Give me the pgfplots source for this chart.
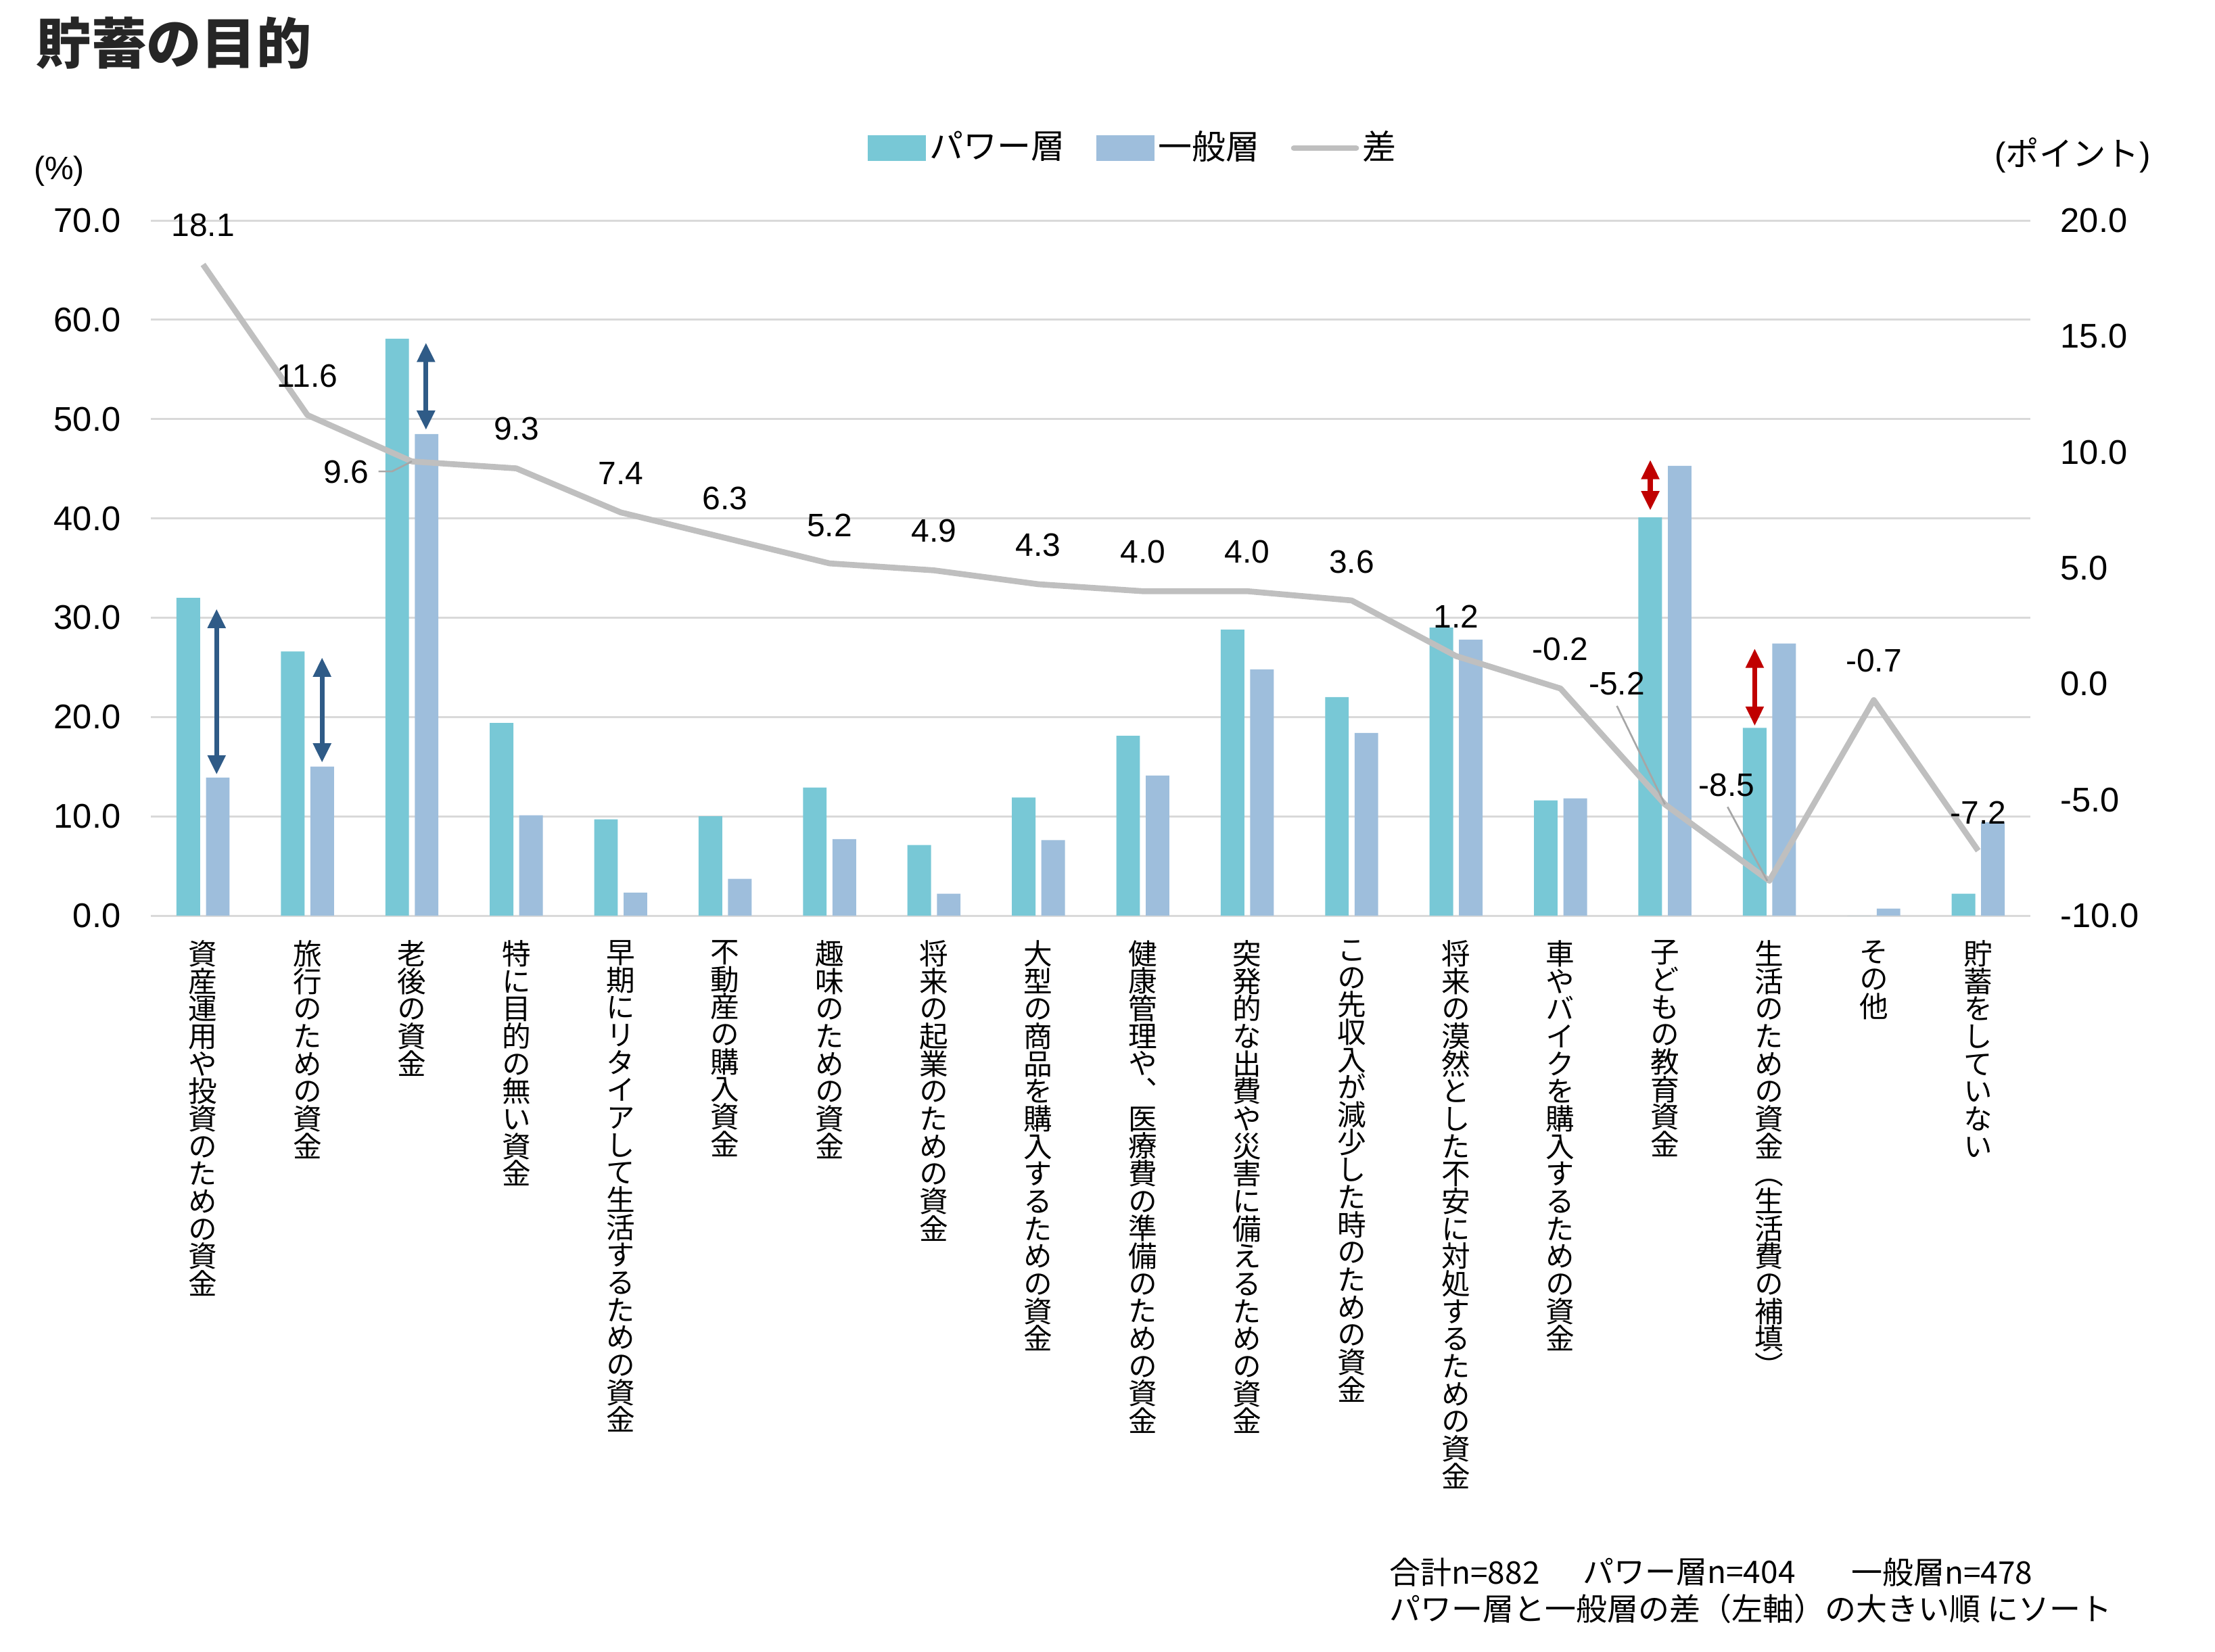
\documentclass[border=0pt]{standalone}
\usepackage{fontspec}
\setmainfont{Liberation Sans}
\newfontfamily\jp{Noto Sans CJK JP}
\newfontfamily\jpv[RawFeature=+vert]{Noto Sans CJK JP}
\usepackage{pgfplots}
\usepackage{pgfplotstable}
\pgfplotsset{compat=1.18}
\usetikzlibrary{arrows.meta}
\definecolor{cteal}{HTML}{78C8D6}
\definecolor{cblue}{HTML}{9EBEDC}
\definecolor{cgrid}{HTML}{D9D9D9}
\definecolor{cline}{HTML}{BFBFBF}
\definecolor{cnavy}{HTML}{2F5B87}
\definecolor{cred}{HTML}{C00000}
\definecolor{cleader}{HTML}{A6A6A6}

\newcommand\vtext[1]{\vbox{\jpv\fontsize{6.4pt}{6.1pt}\selectfont\baselineskip=6.1pt\lineskiplimit=-20pt\lineskip=0pt\relax\vtextaux#1\relax}}
\def\vtextaux#1{\ifx\relax#1\else\hbox to 6.4pt{\hss#1\hss}\expandafter\vtextaux\fi}

\pgfplotsset{
 tealleg/.style={legend image code/.code={\fill[cteal] (0pt,-2.7pt) rectangle (12.5pt,2.7pt);}},
 blueleg/.style={legend image code/.code={\fill[cblue] (0pt,-2.7pt) rectangle (12.5pt,2.7pt);}},
 lineleg/.style={legend image code/.code={\draw[cline, line width=1.3pt, line cap=round] (0pt,0pt) -- (13.8pt,0pt);}},
}

\pgfplotstableread{
x power general diff
0 32.0 13.9 18.1
1 26.6 15.0 11.6
2 58.1 48.5 9.6
3 19.4 10.1 9.3
4 9.7 2.3 7.4
5 10.0 3.7 6.3
6 12.9 7.7 5.2
7 7.1 2.2 4.9
8 11.9 7.6 4.3
9 18.1 14.1 4.0
10 28.8 24.8 4.0
11 22.0 18.4 3.6
12 29.0 27.8 1.2
13 11.6 11.8 -0.2
14 40.1 45.3 -5.2
15 18.9 27.4 -8.5
16 0.0 0.7 -0.7
17 2.2 9.4 -7.2
}\datatable

\begin{document}
\begin{tikzpicture}[
  lbl/.style={font=\fontsize{7.2pt}{8pt}\selectfont, inner sep=0pt},
  leader/.style={cleader, line width=0.4pt},
  navyarr/.style={cnavy, line width=1.1pt, {Triangle[width=3.8pt,length=4.3pt]}-{Triangle[width=3.8pt,length=4.3pt]}},
  redarr/.style={cred, line width=1.1pt, {Triangle[width=3.8pt,length=4.3pt]}-{Triangle[width=3.8pt,length=4.3pt]}},
  foot/.style={anchor=west, inner sep=0pt, font=\jp\fontsize{6.9pt}{8pt}\selectfont},
]
\begin{axis}[
  width=416.85pt, height=154.2pt, scale only axis,
  at={(0pt,0pt)}, anchor=south west,
  xmin=-0.5, xmax=17.5, ymin=0, ymax=70,
  xtick={0,...,17},
  xticklabels={
    {\vtext{資産運用や投資のための資金}},
    {\vtext{旅行のための資金}},
    {\vtext{老後の資金}},
    {\vtext{特に目的の無い資金}},
    {\vtext{早期にリタイアして生活するための資金}},
    {\vtext{不動産の購入資金}},
    {\vtext{趣味のための資金}},
    {\vtext{将来の起業のための資金}},
    {\vtext{大型の商品を購入するための資金}},
    {\vtext{健康管理や、医療費の準備のための資金}},
    {\vtext{突発的な出費や災害に備えるための資金}},
    {\vtext{この先収入が減少した時のための資金}},
    {\vtext{将来の漠然とした不安に対処するための資金}},
    {\vtext{車やバイクを購入するための資金}},
    {\vtext{子どもの教育資金}},
    {\vtext{生活のための資金（生活費の補填）}},
    {\vtext{その他}},
    {\vtext{貯蓄をしていない}}
  },
  ytick={0,10,...,70},
  axis line style={draw=none},
  ymajorgrids, grid style={cgrid, line width=0.45pt},
  tick style={draw=none},
  yticklabel style={anchor=east, inner sep=0pt, xshift=-6.5pt, font=\fontsize{7.6pt}{9pt}\selectfont,
    /pgf/number format/.cd, fixed, fixed zerofill, precision=1, assume math mode=true},
  xticklabel style={anchor=north, inner sep=0pt, yshift=-5.3pt},
  scaled y ticks=false,
  clip=false,
]
\addplot[ybar, bar width=0.226, bar shift=-0.141, fill=cteal, draw=none] table[x=x, y=power] {\datatable};
\addplot[ybar, bar width=0.226, bar shift=0.141, fill=cblue, draw=none] table[x=x, y=general] {\datatable};
\draw[navyarr] (axis cs:0.13,30.9) -- (axis cs:0.13,14.2);
\draw[navyarr] (axis cs:1.14,26.0) -- (axis cs:1.14,15.4);
\draw[navyarr] (axis cs:2.135,57.7) -- (axis cs:2.135,48.9);
\draw[redarr] (axis cs:13.86,45.9) -- (axis cs:13.86,40.8);
\draw[redarr] (axis cs:14.86,26.9) -- (axis cs:14.86,19.1);
\end{axis}
\begin{axis}[
  width=416.85pt, height=154.2pt, scale only axis,
  at={(0pt,0pt)}, anchor=south west,
  xmin=-0.5, xmax=17.5, ymin=-10, ymax=20,
  hide x axis,
  axis line style={draw=none},
  ytick={-10,-5,...,20},
  ytick pos=right, yticklabel pos=right,
  tick style={draw=none},
  yticklabel style={anchor=west, inner sep=0pt, xshift=6.5pt, font=\fontsize{7.6pt}{9pt}\selectfont,
    /pgf/number format/.cd, fixed, fixed zerofill, precision=1, assume math mode=true},
  scaled y ticks=false,
  clip=false,
  legend style={at={(0.523,1.104)}, anchor=center, draw=none, fill=none, legend columns=3,
    font=\jp\fontsize{7.5pt}{8pt}\selectfont,
    /tikz/every even column/.append style={column sep=6.2pt},
    inner sep=0pt, nodes={inner sep=0.8pt}},
]
\addlegendimage{tealleg}
\addlegendentry{パワー層}
\addlegendimage{blueleg}
\addlegendentry{一般層}
\addplot[cline, line width=1.3pt, line join=round, mark=none, lineleg] table[x=x, y=diff] {\datatable};
\addlegendentry{差}
\node[lbl] at (axis cs:0,19.8) {18.1};
\node[lbl] at (axis cs:1,13.3) {11.6};
\node[lbl] at (axis cs:1.37,9.15) {9.6};
\node[lbl] at (axis cs:3,11.0) {9.3};
\node[lbl] at (axis cs:4,9.1) {7.4};
\node[lbl] at (axis cs:5,8.0) {6.3};
\node[lbl] at (axis cs:6,6.85) {5.2};
\node[lbl] at (axis cs:7,6.6) {4.9};
\node[lbl] at (axis cs:8,6.0) {4.3};
\node[lbl] at (axis cs:9,5.7) {4.0};
\node[lbl] at (axis cs:10,5.7) {4.0};
\node[lbl] at (axis cs:11,5.25) {3.6};
\node[lbl] at (axis cs:12,2.9) {1.2};
\node[lbl] at (axis cs:13,1.5) {-0.2};
\node[lbl] at (axis cs:13.54,0.01) {-5.2};
\node[lbl] at (axis cs:14.59,-4.38) {-8.5};
\node[lbl] at (axis cs:16,1.0) {-0.7};
\node[lbl] at (axis cs:17,-5.55) {-7.2};
\draw[leader] (axis cs:1.68,9.17) -- (axis cs:1.81,9.17) -- (axis cs:2.0,9.6);
\draw[leader] (axis cs:13.54,-0.95) -- (axis cs:14.0,-5.2);
\draw[leader] (axis cs:14.60,-5.31) -- (axis cs:14.98,-8.5);
\end{axis}
\node[anchor=north west, inner sep=0pt, text=black!85, font=\jp\bfseries\fontsize{12.2pt}{14pt}\selectfont] at (-25.6pt,199.6pt) {貯蓄の目的};
\node[inner sep=0pt, font=\fontsize{7.2pt}{8pt}\selectfont] at (-20.3pt,165.2pt) {(\%)};
\node[inner sep=0pt, font=\fontsize{7.4pt}{8pt}\selectfont] at (426.2pt,168.6pt) {({\jp ポイント})};
\node[foot] at (274.5pt,-145.6pt) {合計n=882};
\node[foot] at (317.4pt,-145.6pt) {パワー層n=404};
\node[foot] at (376.9pt,-145.6pt) {一般層n=478};
\node[foot] at (274.5pt,-153.7pt) {パワー層と一般層の差（左軸）の大きい順 にソート};
\pgfresetboundingbox
\path[use as bounding box] (-33.45pt,-163.2pt) rectangle (457.8pt,203.1pt);
\end{tikzpicture}
\end{document}
